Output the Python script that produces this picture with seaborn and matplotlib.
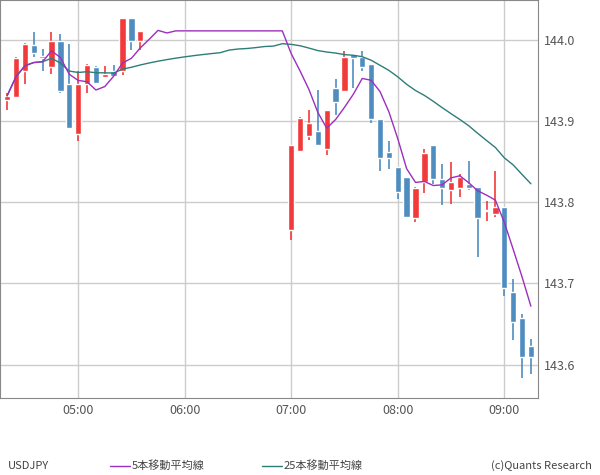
import numpy as np
import pandas as pd
import matplotlib
matplotlib.use("Agg")
import matplotlib.pyplot as plt
import seaborn as sns

opens = [143.926,143.930,143.961,143.994,143.980,143.967,143.999,143.946,143.884,143.945,
         143.967,143.954,143.962,143.961,144.027,143.998] + [144.011]*16 + \
        [143.766,143.863,143.882,143.888,143.865,143.941,143.937,143.982,143.979,143.970,
         143.903,143.862,143.844,143.831,143.780,143.825,143.870,143.829,143.815,143.817,
         143.823,143.819,143.789,143.786,143.794,143.689,143.657,143.623]
highs = [143.934,143.979,143.996,144.010,143.989,144.010,144.007,143.995,143.962,143.970,
         143.968,143.968,143.969,144.027,144.027,144.011] + [144.011]*16 + \
        [143.871,143.905,143.913,143.938,143.914,143.952,143.986,143.982,143.986,143.970,
         143.903,143.876,143.844,143.831,143.819,143.865,143.871,143.847,143.849,143.835,
         143.851,143.819,143.801,143.838,143.794,143.705,143.663,143.632]
lows = [143.914,143.930,143.945,143.979,143.962,143.958,143.934,143.890,143.876,143.935,
        143.947,143.954,143.956,143.957,143.988,143.988] + [144.011]*16 + \
       [143.753,143.863,143.877,143.870,143.858,143.908,143.937,143.941,143.962,143.898,
        143.838,143.841,143.804,143.782,143.776,143.812,143.823,143.797,143.798,143.806,
        143.815,143.732,143.777,143.782,143.685,143.631,143.584,143.589]
closes = [143.931,143.978,143.995,143.984,143.977,143.998,143.937,143.892,143.946,143.969,
          143.947,143.958,143.956,144.027,143.998,144.011] + [144.011]*16 + \
         [143.871,143.904,143.897,143.870,143.914,143.924,143.979,143.978,143.967,143.903,
          143.855,143.854,143.813,143.782,143.818,143.861,143.829,143.817,143.825,143.831,
          143.818,143.780,143.790,143.794,143.695,143.652,143.610,143.609]
xtick_pos = [8, 20, 32, 44, 56]
xtick_labels = ["05:00", "06:00", "07:00", "08:00", "09:00"]
ytick_vals = [143.6, 143.7, 143.8, 143.9, 144.0]

df = pd.DataFrame({"i": np.arange(len(closes)), "o": opens, "h": highs, "l": lows, "c": closes})
df["ma5"] = df["c"].rolling(5, min_periods=1).mean()
df["ma25"] = df["c"].rolling(25, min_periods=1).mean()

sns.set_style("white")
plt.rcParams['font.family'] = ['Noto Sans CJK JP', 'DejaVu Sans']

RED, BLUE = "#f23a3a", "#4f8cc0"
fig = plt.figure(figsize=(6, 4.75), dpi=100)
ax = fig.add_axes([0.0, 1 - 398/475, 538/600, 398/475])
ax.set_xlim(-0.8, 59.8)
ax.set_ylim(143.559, 144.049)
ax.grid(True, color="#cccccc", lw=1)
ax.set_axisbelow(True)

up = df["c"] >= df["o"]
cols = np.where(up, RED, BLUE)
ax.vlines(df["i"], df["l"], df["h"], colors=cols, lw=1.2, zorder=2)
bot = np.minimum(df["o"], df["c"])
hgt = np.maximum(np.abs(df["c"] - df["o"]), 0.0012)
ax.bar(df["i"], hgt, bottom=bot, width=0.72, color=cols, zorder=3)

sns.lineplot(data=df, x="i", y="ma25", ax=ax, color="#2e7d78", lw=1, zorder=4)
sns.lineplot(data=df, x="i", y="ma5", ax=ax, color="#9b2fbf", lw=1, zorder=4)

ax.set_xticks(xtick_pos)
ax.set_xticklabels(xtick_labels)
ax.set_yticks(ytick_vals)
ax.set_yticklabels([f"{v:.1f}" for v in ytick_vals])
ax.yaxis.tick_right()
ax.tick_params(colors="#555555", labelsize=9, length=0, pad=4)
ax.set_xlabel(""); ax.set_ylabel("")
for s in ax.spines.values():
    s.set_color("#888888")

fig.text(8/600, 1 - 466/475, "USDJPY", fontsize=8, color="#444444", va="center")
fig.add_artist(plt.Line2D([110/600, 130/600], [1 - 466/475]*2, color="#9b2fbf", lw=1))
fig.text(132/600, 1 - 466/475, "5本移動平均線", fontsize=8, color="#444444", va="center")
fig.add_artist(plt.Line2D([262/600, 282/600], [1 - 466/475]*2, color="#2e7d78", lw=1))
fig.text(284/600, 1 - 466/475, "25本移動平均線", fontsize=8, color="#444444", va="center")
fig.text(592/600, 1 - 466/475, "(c)Quants Research", fontsize=8, color="#444444", va="center", ha="right")

fig.savefig("out.png", dpi=100)
